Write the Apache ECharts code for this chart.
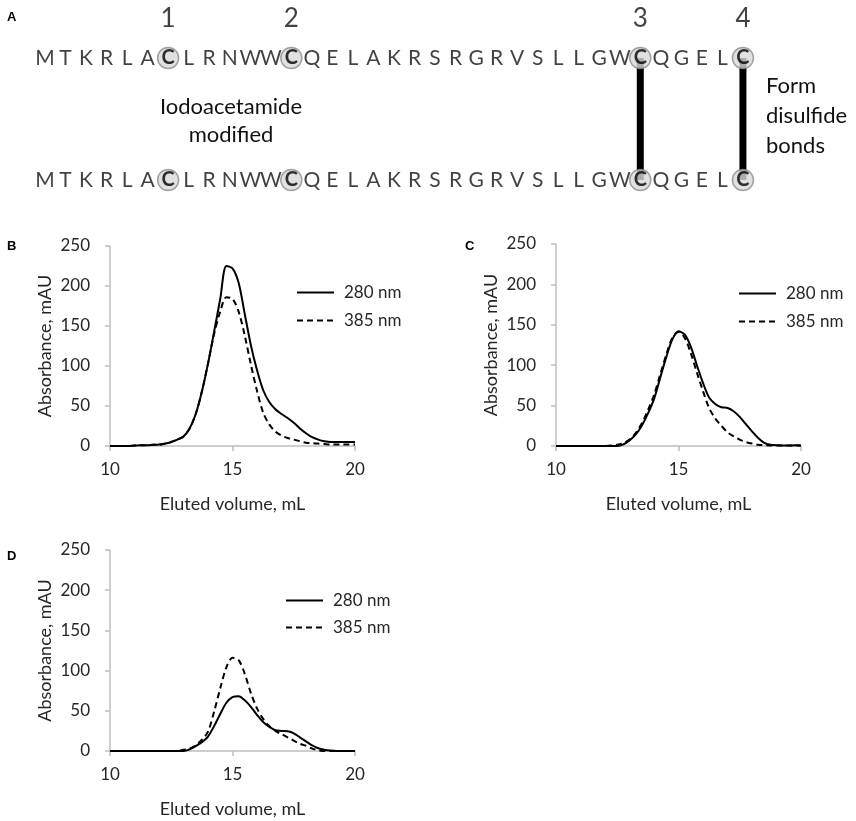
<!DOCTYPE html>
<html>
<head>
<meta charset="utf-8">
<script src="https://cdn.jsdelivr.net/npm/echarts@6/dist/echarts.min.js"></script>
<style>
  html, body { margin: 0; padding: 0; background: #fff; }
  #chart { width: 856px; height: 821px; }
</style>
</head>
<body>
<div id="chart"></div>
<script>
// panel A: peptide sequence, cysteines numbered 1-4
const sequence = 'MTKRLACLRNWWCQELAKRSRGRVSLLGWCQGELC'.split('');
const cysLabels = ['1', '2', '3', '4'];
const bondedCys = ['3', '4'];

// panels B-D: elution profiles (mL vs mAU)
const volume = [10, 10.25, 10.5, 10.75, 11, 11.25, 11.5, 11.75, 12, 12.25, 12.5, 12.75,
  13, 13.25, 13.5, 13.75, 14, 14.25, 14.5, 14.75, 15, 15.25, 15.5, 15.75, 16, 16.25,
  16.5, 16.75, 17, 17.25, 17.5, 17.75, 18, 18.25, 18.5, 18.75, 19, 19.25, 19.5, 19.75, 20];

const b280 = [0, 0, 0, 0, 0.5, 1, 1, 1.5, 2, 3, 5, 8, 12, 22, 40, 68, 103, 143, 184, 225, 222,
  204, 165, 126, 95, 70, 55, 46, 40, 35, 29, 22, 16, 11, 8, 6, 5, 5, 5, 5, 5];
const b385 = [0, 0, 0, 0, 0.5, 1, 1, 1.5, 1.5, 3, 5, 8, 12, 22, 40, 68, 103, 140, 168, 186, 184,
  168, 138, 102, 69, 42, 27, 18, 13, 10, 8, 6, 4, 3.5, 3, 2.5, 2, 2, 2, 2, 2];

const c280 = [0, 0, 0, 0, 0, 0, 0, 0, 0, 0, 0, 2, 7, 14, 25, 40, 58, 84, 110, 132, 142,
  138, 123, 100, 78, 60, 52, 48, 47, 43, 36, 27, 18, 10, 4, 1.5, 1, 0.5, 0.5, 1, 0.5];
const c385 = [0, 0, 0, 0, 0, 0, 0, 0, 0, 0.5, 1.5, 3.5, 8, 16, 28, 44, 63, 88, 113, 134, 141,
  134, 115, 91, 68, 47, 34, 25, 17, 12, 8, 5, 3, 1.5, 1, 0.5, 0.5, 0.5, 0.5, 0.5, 0.5];

const d280 = [0, 0, 0, 0, 0, 0, 0, 0, 0, 0, 0, 0, 0, 2, 6, 11, 18, 31, 46, 60, 67,
  68, 63, 55, 45, 36, 30, 26, 25, 24.5, 22, 17, 12, 7, 3.5, 1.5, 0.5, 0, 0, 0, 0];
const d385 = [0, 0, 0, 0, 0, 0, 0, 0, 0, 0, 0, 0, 1.5, 3, 7, 14, 24, 49, 78, 104, 116,
  113, 96, 72, 53, 40, 31, 25, 21, 17, 13, 9, 6.5, 3, 1, 0, 0, 0, 0, 0, 0];

const seriesNames = ['280 nm', '385 nm'];

const TXT = '#262626';
const AXIS = '#bfbfbf';
const FONT = 'Lato';

const chart = echarts.init(document.getElementById('chart'));

// layout of the three profile panels
const panels = [
  { grid: { left: 110, top: 246, width: 245, height: 200 }, legend: { left: 296, top: 284, itemGap: 11 }, data: [b280, b385] },
  { grid: { left: 556, top: 244, width: 245, height: 202 }, legend: { left: 738, top: 285, itemGap: 11 }, data: [c280, c385] },
  { grid: { left: 110, top: 550, width: 245, height: 201 }, legend: { left: 285, top: 592, itemGap: 10 }, data: [d280, d385] }
];

const grids = [{ left: 34.7, top: 58, width: 718.5, height: 122 }];
const xAxes = [{ gridIndex: 0, type: 'value', min: -0.5, max: 34.5, show: false }];
const yAxes = [{ gridIndex: 0, type: 'value', min: 0, max: 1, show: false }];
const legends = [];
const series = [];

// sequence letters (non cysteine), two rows
const cysIdx = [];
sequence.forEach((s, i) => { if (s === 'C') cysIdx.push(i); });
const letterData = [];
[1, 0].forEach(row => {
  sequence.forEach((s, i) => { if (s !== 'C') letterData.push([i, row, s]); });
});
series.push({
  type: 'scatter', xAxisIndex: 0, yAxisIndex: 0, silent: true,
  symbolSize: 1, itemStyle: { color: 'rgba(0,0,0,0)' },
  data: letterData,
  label: { show: true, position: 'inside', formatter: p => p.value[2], color: '#111', fontFamily: FONT, fontSize: 21 }
});

// disulfide bonds
bondedCys.forEach(lab => {
  const i = cysIdx[cysLabels.indexOf(lab)];
  series.push({
    type: 'line', xAxisIndex: 0, yAxisIndex: 0, silent: true, z: 2,
    symbol: 'none', data: [[i, 1], [i, 0]],
    lineStyle: { color: '#000', width: 7 }
  });
});

// circled cysteines
const cysData = [];
[1, 0].forEach(row => cysIdx.forEach(i => cysData.push([i, row])));
series.push({
  type: 'scatter', xAxisIndex: 0, yAxisIndex: 0, silent: true, z: 3,
  symbol: 'circle', symbolSize: 21, data: cysData,
  itemStyle: { color: '#dadada', borderColor: '#8c8c8c', borderWidth: 1.5 },
  label: { show: true, position: 'inside', formatter: 'C', color: '#000', fontFamily: FONT, fontWeight: 'bold', fontSize: 20 }
});

// cysteine numbers
series.push({
  type: 'scatter', xAxisIndex: 0, yAxisIndex: 0, silent: true,
  symbolSize: 1, itemStyle: { color: 'rgba(0,0,0,0)' },
  data: cysIdx.map((i, k) => [i, 1, cysLabels[k]]),
  label: { show: true, position: 'inside', offset: [0, -39], formatter: p => p.value[2], color: '#111', fontFamily: FONT, fontSize: 26 }
});

panels.forEach((p, k) => {
  const gi = k + 1;
  grids.push(p.grid);
  xAxes.push({
    gridIndex: gi, type: 'value', min: 10, max: 20, interval: 5,
    name: 'Eluted volume, mL', nameLocation: 'middle', nameGap: 49,
    nameTextStyle: { color: TXT, fontFamily: FONT, fontSize: 18 },
    axisLine: { show: true, lineStyle: { color: AXIS, width: 1.5 } },
    axisTick: { show: true, length: 5, lineStyle: { color: AXIS, width: 1.5 } },
    axisLabel: { color: TXT, fontFamily: FONT, fontSize: 17, margin: 15 },
    splitLine: { show: false }
  });
  yAxes.push({
    gridIndex: gi, type: 'value', min: 0, max: 250, interval: 50,
    name: 'Absorbance, mAU', nameLocation: 'middle', nameGap: 56, nameRotate: 90,
    nameTextStyle: { color: TXT, fontFamily: FONT, fontSize: 18 },
    axisLine: { show: true, lineStyle: { color: AXIS, width: 1.5 } },
    axisTick: { show: true, length: 5, lineStyle: { color: AXIS, width: 1.5 } },
    axisLabel: { color: TXT, fontFamily: FONT, fontSize: 17, margin: 20 },
    splitLine: { show: false }
  });
  legends.push({
    left: p.legend.left, top: p.legend.top, orient: 'vertical', padding: 0,
    itemWidth: 37, itemHeight: 14, itemGap: p.legend.itemGap,
    data: seriesNames, selectedMode: false,
    itemStyle: { opacity: 0, borderWidth: 0 },
    textStyle: { color: TXT, fontFamily: FONT, fontSize: 17, padding: [0, 0, 0, 5] }
  });
  p.data.forEach((vals, j) => {
    series.push({
      name: seriesNames[j], type: 'line', xAxisIndex: gi, yAxisIndex: gi,
      data: volume.map((v, i) => [v, vals[i]]),
      smooth: 0.3, symbol: 'none', showSymbol: false, silent: true,
      lineStyle: { color: '#000', width: 2, type: j === 0 ? 'solid' : [6, 4] },
      itemStyle: { color: '#000' }
    });
  });
});

const panelLabel = (t, x, y) => ({
  type: 'text', left: x, top: y,
  style: { text: t, fill: '#000', font: 'bold 13px "Liberation Sans", Arial' }
});

chart.setOption({
  backgroundColor: '#fff',
  animation: false,
  grid: grids,
  xAxis: xAxes,
  yAxis: yAxes,
  legend: legends,
  series: series,
  graphic: [
    panelLabel('A', 7, 11),
    panelLabel('B', 7, 240),
    panelLabel('C', 465, 240),
    panelLabel('D', 7, 550),
    {
      type: 'text', x: 231, y: 121,
      style: { text: 'Iodoacetamide\nmodified', fill: '#111', font: '22px Lato', align: 'center', verticalAlign: 'middle', lineHeight: 28 }
    },
    {
      type: 'text', left: 766, top: 71,
      style: { text: 'Form\ndisulfide\nbonds', fill: '#111', font: '22px Lato', lineHeight: 30 }
    }
  ]
});
</script>
</body>
</html>
